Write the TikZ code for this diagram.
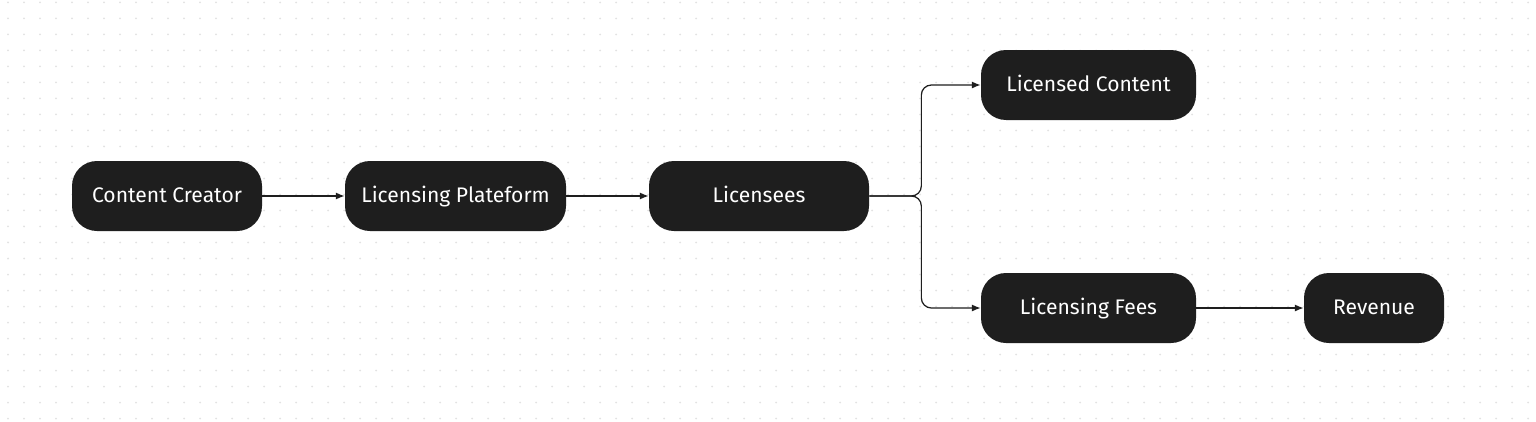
\documentclass[tikz,border=0pt]{standalone}
\usepackage{fontspec}
\setmainfont{Fira Sans}
\usetikzlibrary{arrows.meta,calc}
\definecolor{boxfill}{HTML}{1E1E1E}
\definecolor{dotgray}{HTML}{E2E2E2}

\begin{document}
\begin{tikzpicture}[>={Latex[length=5pt,width=4pt]},
	block/.style={fill=boxfill,text=white,rounded corners=0.5cm,minimum height=1.4cm,font=\fontsize{12}{14}\selectfont,inner sep=0pt,text height=1.45ex,text depth=0ex},
	link/.style={->,line width=0.7pt,color=boxfill}]

\fill[white] (0,0) rectangle (30.72,8.42);
\useasboundingbox (0,0) rectangle (30.72,8.42);

% dotted backdrop
\foreach \i in {0,...,95}{
	\foreach \j in {0,...,26}{
		\fill[dotgray] ({0.16+\i*0.32},{0.05+\j*0.32}) circle (0.02);
	}
}

\node[block,minimum width=3.8cm] (creator) at (3.34,4.5) {Content Creator};
\node[block,minimum width=4.42cm] (platform) at (9.11,4.5) {Licensing Plateform};
\node[block,minimum width=4.4cm] (licensees) at (15.18,4.5) {Licensees};
\node[block,minimum width=4.3cm] (content) at (21.77,6.72) {Licensed Content};
\node[block,minimum width=4.3cm] (fees) at (21.77,2.26) {Licensing Fees};
\node[block,minimum width=2.8cm] (revenue) at (27.48,2.26) {Revenue};

\draw[link] (creator) -- (platform);
\draw[link] (platform) -- (licensees);
\draw[link,rounded corners=0.2cm] (licensees.east) -- ++(1.04,0) |- (content.west);
\draw[link,rounded corners=0.2cm] (licensees.east) -- ++(1.04,0) |- (fees.west);
\draw[link] (fees) -- (revenue);

\end{tikzpicture}
\end{document}
